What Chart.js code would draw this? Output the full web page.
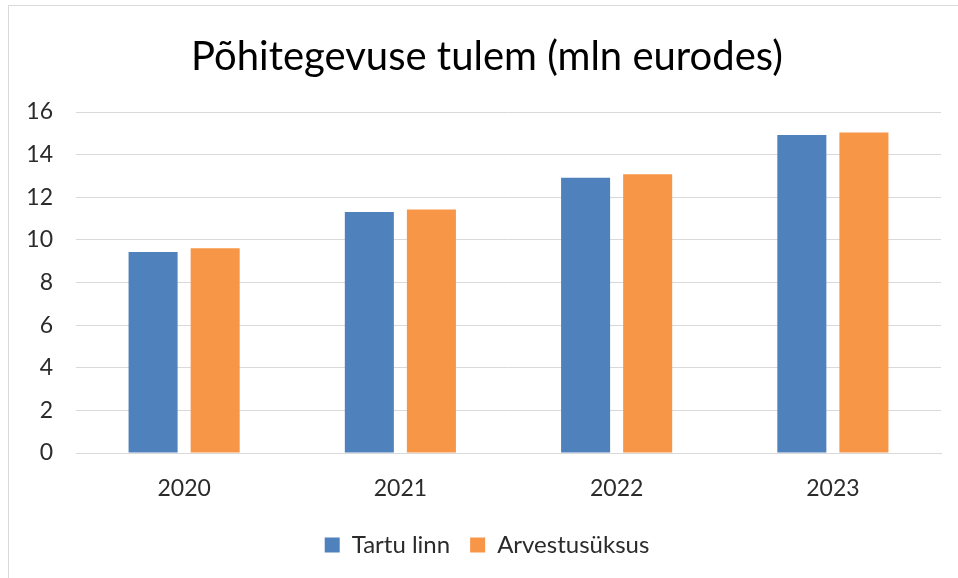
<!DOCTYPE html>
<html>
<head>
<meta charset="utf-8">
<script src="https://cdn.jsdelivr.net/npm/chart.js@4/dist/chart.umd.min.js"></script>
<style>
    html, body { margin: 0; padding: 0; background: #fff; }
    #frame { position: absolute; left: 8px; top: 5px; width: 960px; height: 580px;
             border-left: 1px solid #d9d9d9; border-top: 1px solid #d9d9d9; }
    #wrap { position: absolute; left: 0; top: 0; width: 958px; height: 578px; }
</style>
</head>
<body>
<div id="frame"></div>
<div id="wrap"><canvas id="resultChart"></canvas></div>
<script>

const years = ["2020", "2021", "2022", "2023"];
const tartuLinn = [9.43, 11.31, 12.91, 14.92];
const arvestusyksus = [9.61, 11.42, 13.08, 15.04];
const yTicks = [0, 2, 4, 6, 8, 10, 12, 14, 16];

const fontFamily = "Lato, 'Open Sans', sans-serif";
const textColor = "#2b2b2b";

const ctx = document.getElementById("resultChart");

new Chart(ctx, {

    type: "bar",

    data: {
        labels: years,

        datasets: [{
            label: "Tartu linn",
            data: tartuLinn,
            backgroundColor: "#4f81bd"
        }, {
            label: "Arvestusüksus",
            data: arvestusyksus,
            backgroundColor: "#f79646"
        }]
    },

    options: {

        responsive: true,
        maintainAspectRatio: false,
        animation: false,

        categoryPercentage: 0.574,
        barPercentage: 0.79,

        layout: {
            padding: { left: 16, right: 0, top: 0, bottom: 11 }
        },

        plugins: {
            title: {
                display: true,
                text: "Põhitegevuse tulem (mln eurodes)",
                color: "#000",
                font: { family: fontFamily, size: 40, weight: "normal" },
                padding: { top: 33, bottom: 31 }
            },
            legend: {
                display: true,
                position: "bottom",
                labels: {
                    color: textColor,
                    font: { family: fontFamily, size: 24 },
                    boxWidth: 15,
                    boxHeight: 15,
                    padding: 20
                }
            },
            tooltip: { enabled: false }
        },

        scales: {
            x: {
                grid: { display: false, drawTicks: false },
                border: { display: true, color: "#d9d9d9", width: 1 },
                ticks: {
                    color: textColor,
                    font: { family: fontFamily, size: 23 },
                    padding: 22
                },
                afterFit: scale => { scale.height = 60; }
            },
            y: {
                min: 0,
                max: 16,
                afterBuildTicks: scale => {
                    scale.ticks = yTicks.map(v => ({ value: v }));
                },
                grid: { color: "#d9d9d9", drawTicks: false },
                border: { display: false },
                ticks: {
                    color: textColor,
                    font: { family: fontFamily, size: 23 },
                    padding: 23
                },
                afterFit: scale => { scale.width = 60; }
            },
            // empty right-hand axis, only keeps the plot off the right edge
            yRight: {
                position: "right",
                grid: { display: false, drawTicks: false },
                border: { display: false },
                ticks: { display: false },
                afterFit: scale => { scale.width = 17; }
            }
        }

    }

});

</script>
</body>
</html>
